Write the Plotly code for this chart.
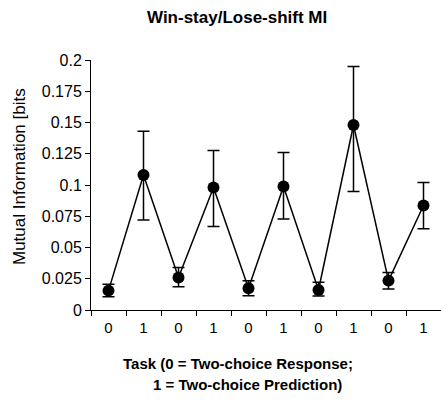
import plotly.graph_objects as go

positions = [1, 2, 3, 4, 5, 6, 7, 8, 9, 10]
task_labels = ["0", "1", "0", "1", "0", "1", "0", "1", "0", "1"]
mi_mean = [0.0155, 0.108, 0.026, 0.098, 0.0174, 0.0988, 0.016, 0.148, 0.0235, 0.0836]
err_upper = [0.0206, 0.143, 0.034, 0.1277, 0.0235, 0.126, 0.0222, 0.1947, 0.030, 0.102]
err_lower = [0.0107, 0.072, 0.0187, 0.0668, 0.0115, 0.0729, 0.0112, 0.0948, 0.0168, 0.065]
y_ticks = [0, 0.025, 0.05, 0.075, 0.1, 0.125, 0.15, 0.175, 0.2]
y_ticktext = ["0", "0.025", "0.05", "0.075", "0.1", "0.125", "0.15", "0.175", "0.2"]

plus = [u - m for u, m in zip(err_upper, mi_mean)]
minus = [m - l for m, l in zip(mi_mean, err_lower)]

W, H = 441, 408
L, R, T, B = 91, 0, 60, 98

def px(x, y):
    return (x - L) / (W - L - R), (H - B - y) / (H - T - B)

fig = go.Figure()
fig.add_trace(go.Scatter(
    x=positions, y=mi_mean, mode="lines+markers",
    line=dict(color="black", width=1.5),
    marker=dict(color="black", size=12),
    error_y=dict(type="data", symmetric=False, array=plus, arrayminus=minus,
                 color="black", thickness=1.5, width=6),
    cliponaxis=False, showlegend=False,
))

font = "Liberation Sans, Arial, sans-serif"
t_x, t_y = px(237, 17)
ya_x, ya_y = px(19, 177)
a1 = px(121, 363)
a2 = px(151, 384)

fig.update_layout(
    width=W, height=H,
    margin=dict(l=L, r=R, t=T, b=B),
    paper_bgcolor="white", plot_bgcolor="white",
    font=dict(family=font, color="black", size=15),
    xaxis=dict(range=[0.5, 10.5], tickvals=positions, ticktext=task_labels,
               ticks="", showgrid=False, zeroline=False,
               showline=True, linecolor="black", linewidth=1,
               tickfont=dict(size=15), ticklabelstandoff=4,
               minor=dict(tickvals=[p - 0.5 for p in positions] + [10.5],
                          ticks="outside", ticklen=5, tickcolor="black", showgrid=False)),
    yaxis=dict(range=[0, 0.2], tickvals=y_ticks, ticktext=y_ticktext,
               ticks="outside", ticklen=5, tickcolor="black",
               showgrid=False, zeroline=False,
               showline=True, linecolor="black", linewidth=1,
               tickfont=dict(size=16)),
    annotations=[
        dict(text="<b>Win-stay/Lose-shift MI</b>", x=t_x, y=t_y,
             xref="paper", yref="paper", xanchor="center", yanchor="middle",
             showarrow=False, font=dict(size=17)),
        dict(text="Mutual Information [bits", x=ya_x, y=ya_y, textangle=-90,
             xref="paper", yref="paper", xanchor="center", yanchor="middle",
             showarrow=False, font=dict(size=17)),
        dict(text="<b>Task (0 = Two-choice Response&#59;</b>", x=a1[0], y=a1[1],
             xref="paper", yref="paper", xanchor="left", yanchor="middle",
             showarrow=False, font=dict(size=15)),
        dict(text="<b>1 = Two-choice Prediction)</b>", x=a2[0], y=a2[1],
             xref="paper", yref="paper", xanchor="left", yanchor="middle",
             showarrow=False, font=dict(size=15)),
    ],
)

fig.write_html("out.html")
